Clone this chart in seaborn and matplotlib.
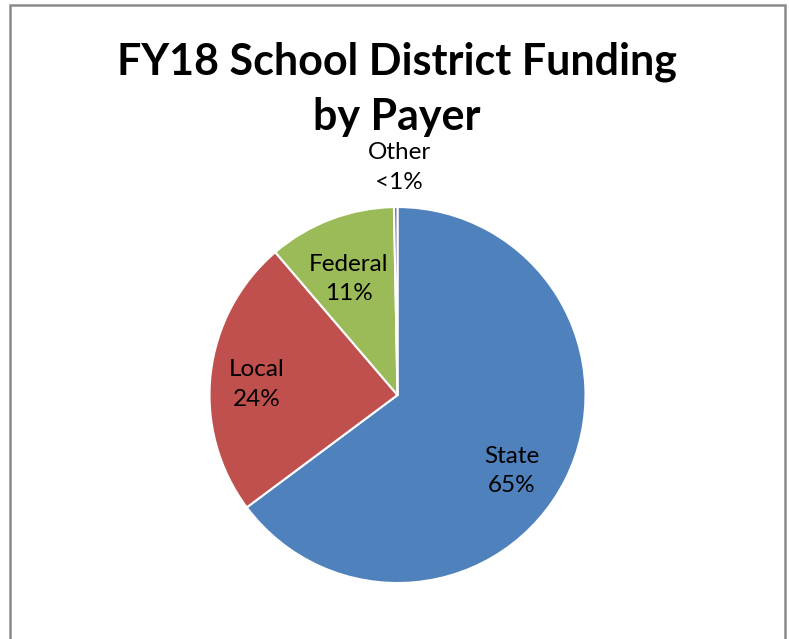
import matplotlib
matplotlib.use("Agg")
from matplotlib import pyplot as plt
import seaborn as sns
import numpy as np

sns.set_theme(style="white")
plt.rcParams['font.family'] = ['Lato', 'DejaVu Sans']

# Datos
payers = ["State", "Local", "Federal", "Other"]
shares = [65, 24, 11, 0.3]
share_labels = ["65%", "24%", "11%", "<1%"]
colors = ["#4F81BD", "#C0504D", "#9BBB59", "#8064A2"]

# Posición de las etiquetas (distancia al centro y giro respecto al centro del sector)
label_dist = [0.73, 0.75, 0.67, 1.21]
label_shift = [-7, 2, 2, -1]

fig = plt.figure(figsize=(7.89, 6.39), dpi=100)

# Marco del gráfico
fig.patches.append(plt.Rectangle((10 / 789, -0.05), 775 / 789, 1.05 - 5 / 639,
                                 transform=fig.transFigure, fill=False,
                                 edgecolor="#8a8a8a", linewidth=1.8))

ax = fig.add_axes([0.2655, 0.0876, 0.4766, 0.5884])
wedges, _ = ax.pie(shares, colors=colors, startangle=90, counterclock=False,
                   wedgeprops=dict(edgecolor="white", linewidth=1.5))
ax.set_xlim(-1, 1)
ax.set_ylim(-1, 1)

# Etiquetas de cada sector
for w, name, pct, d, s in zip(wedges, payers, share_labels, label_dist, label_shift):
    ang = np.deg2rad((w.theta1 + w.theta2) / 2 + s)
    ax.text(d * np.cos(ang), d * np.sin(ang), f"{name}\n{pct}",
            ha="center", va="center", fontsize=17.5, color="black",
            linespacing=1.5)

fig.text(0.503, 0.86, "FY18 School District Funding\nby Payer", ha="center",
         va="center", fontsize=31, fontweight="bold", color="black",
         linespacing=1.45)

fig.savefig("out.png", dpi=100)
